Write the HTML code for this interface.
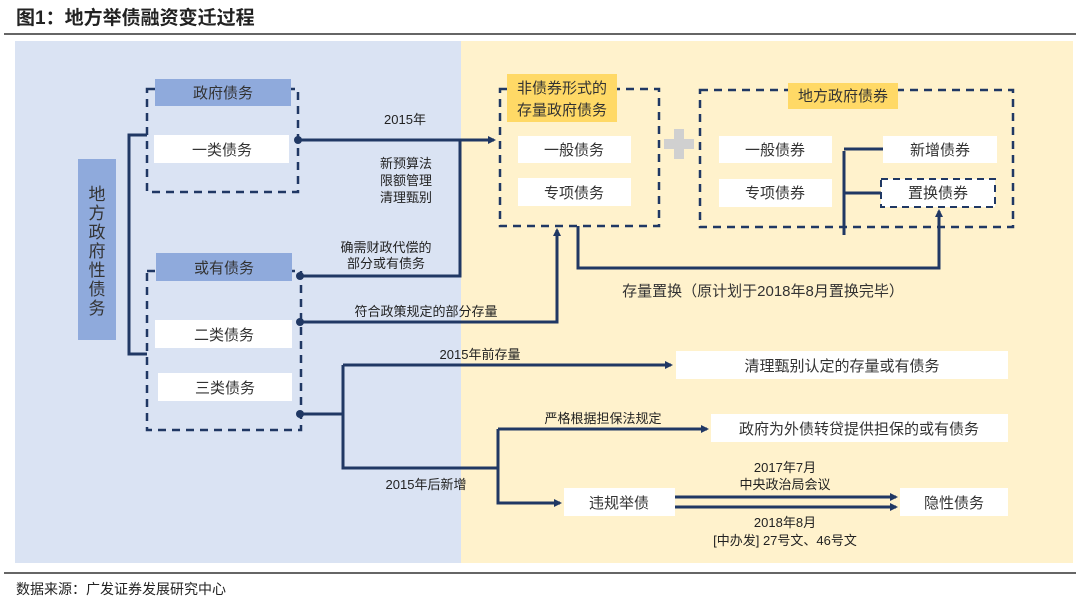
<!DOCTYPE html>
<html><head><meta charset="utf-8"><style>
body{margin:0;background:#fff;}
svg{display:block;font-family:"Liberation Sans","Noto Sans CJK SC",sans-serif;}
</style></head><body>
<svg width="1080" height="603" viewBox="0 0 1080 603" xmlns="http://www.w3.org/2000/svg">
<defs>
<marker id="ar" markerWidth="8" markerHeight="8" refX="6" refY="4" orient="auto" markerUnits="userSpaceOnUse">
<path d="M0,0 L8,4 L0,8 Z" fill="#203864"/></marker>
</defs>
<text x="16" y="24" font-size="19" font-weight="bold" fill="#222">图1：地方举债融资变迁过程</text>
<line x1="4" y1="34" x2="1076" y2="34" stroke="#333" stroke-width="1.5"/>
<rect x="15" y="41" width="446" height="522" fill="#dae3f3"/>
<rect x="461" y="41" width="612" height="522" fill="#fff2cc"/>
<line x1="4" y1="573" x2="1076" y2="573" stroke="#333" stroke-width="1.5"/>
<text x="16" y="594" font-size="14" fill="#222">数据来源：广发证券发展研究中心</text>

<g stroke="#203864" stroke-width="2.5" fill="none" stroke-dasharray="8,6">
<rect x="147" y="89" width="151" height="103"/>
<rect x="147" y="271" width="154" height="159"/>
<rect x="500" y="89" width="159" height="137"/>
<rect x="700" y="90" width="313" height="137"/>
</g>
<rect x="881" y="179" width="114" height="28" fill="#fff" stroke="#203864" stroke-width="2" stroke-dasharray="7,5"/>

<rect x="78" y="159" width="38" height="181" fill="#8faadc"/>
<g font-size="17" fill="#333" text-anchor="middle">
<text x="97" y="200">地</text><text x="97" y="219">方</text><text x="97" y="238">政</text><text x="97" y="257">府</text><text x="97" y="276">性</text><text x="97" y="295">债</text><text x="97" y="314">务</text>
</g>

<rect x="155" y="79" width="136" height="27" fill="#8faadc"/>
<rect x="154" y="135" width="135" height="28" fill="#fff"/>
<rect x="156" y="253" width="136" height="28" fill="#8faadc"/>
<rect x="155" y="320" width="137" height="28" fill="#fff"/>
<rect x="158" y="373" width="134" height="28" fill="#fff"/>
<rect x="507" y="74" width="110" height="48" fill="#ffd966"/>
<rect x="518" y="136" width="113" height="27" fill="#fff"/>
<rect x="518" y="178" width="113" height="28" fill="#fff"/>
<rect x="788" y="83" width="110" height="26" fill="#ffd966"/>
<rect x="719" y="136" width="113" height="27" fill="#fff"/>
<rect x="719" y="179" width="113" height="28" fill="#fff"/>
<rect x="883" y="136" width="114" height="27" fill="#fff"/>
<rect x="676" y="351" width="332" height="28" fill="#fff"/>
<rect x="711" y="414" width="297" height="28" fill="#fff"/>
<rect x="564" y="488" width="111" height="28" fill="#fff"/>
<rect x="900" y="488" width="108" height="28" fill="#fff"/>

<rect x="664" y="139" width="30" height="10" fill="#d0d0d0"/>
<rect x="674" y="129" width="10" height="30" fill="#d0d0d0"/>

<g font-size="15" fill="#333" text-anchor="middle">
<text x="223" y="98">政府债务</text>
<text x="222" y="155">一类债务</text>
<text x="224" y="273">或有债务</text>
<text x="224" y="340">二类债务</text>
<text x="225" y="393">三类债务</text>
<text x="562" y="93">非债券形式的</text>
<text x="562" y="115">存量政府债务</text>
<text x="574" y="155">一般债务</text>
<text x="574" y="198">专项债务</text>
<text x="843" y="101">地方政府债券</text>
<text x="775" y="155">一般债券</text>
<text x="775" y="198">专项债券</text>
<text x="940" y="155">新增债券</text>
<text x="938" y="198">置换债券</text>
<text x="842" y="371">清理甄别认定的存量或有债务</text>
<text x="859" y="434">政府为外债转贷提供担保的或有债务</text>
<text x="619" y="508">违规举债</text>
<text x="954" y="508">隐性债务</text>
<text x="763" y="296">存量置换（原计划于2018年8月置换完毕）</text>
</g>
<g font-size="13" fill="#222" text-anchor="middle">
<text x="405" y="124">2015年</text>
<text x="406" y="168">新预算法</text>
<text x="406" y="185">限额管理</text>
<text x="406" y="202">清理甄别</text>
<text x="386" y="252">确需财政代偿的</text>
<text x="386" y="268">部分或有债务</text>
<text x="426" y="316">符合政策规定的部分存量</text>
<text x="480" y="359">2015年前存量</text>
<text x="603" y="423">严格根据担保法规定</text>
<text x="426" y="489">2015年后新增</text>
<text x="785" y="472">2017年7月</text>
<text x="785" y="489">中央政治局会议</text>
<text x="785" y="527">2018年8月</text>
<text x="785" y="545">[中办发] 27号文、46号文</text>
</g>

<g stroke="#203864" stroke-width="3" fill="none">
<polyline points="147,135 129,135 129,354 147,354"/>
<polyline points="844,151 844,235"/>
<line x1="844" y1="149" x2="883" y2="149"/>
<line x1="844" y1="193" x2="881" y2="193"/>
<line x1="298" y1="140" x2="494" y2="140" marker-end="url(#ar)"/>
<polyline points="300,276 460,276 460,140"/>
<polyline points="300,322 557,322 557,230" marker-end="url(#ar)"/>
<polyline points="578,226 578,268 939,268 939,211" marker-end="url(#ar)"/>
<polyline points="300,414 343,414"/>
<polyline points="343,365 343,468 498,468"/>
<line x1="343" y1="365" x2="671" y2="365" marker-end="url(#ar)"/>
<polyline points="498,429 498,503 560,503" marker-end="url(#ar)"/>
<line x1="498" y1="429" x2="707" y2="429" marker-end="url(#ar)"/>
<line x1="675" y1="497" x2="896" y2="497" marker-end="url(#ar)"/>
<line x1="675" y1="507" x2="896" y2="507" marker-end="url(#ar)"/>
</g>
<g fill="#203864">
<circle cx="298" cy="140" r="4"/>
<circle cx="300" cy="276" r="4"/>
<circle cx="300" cy="322" r="4"/>
<circle cx="300" cy="414" r="4"/>
</g>
</svg>
</body></html>
